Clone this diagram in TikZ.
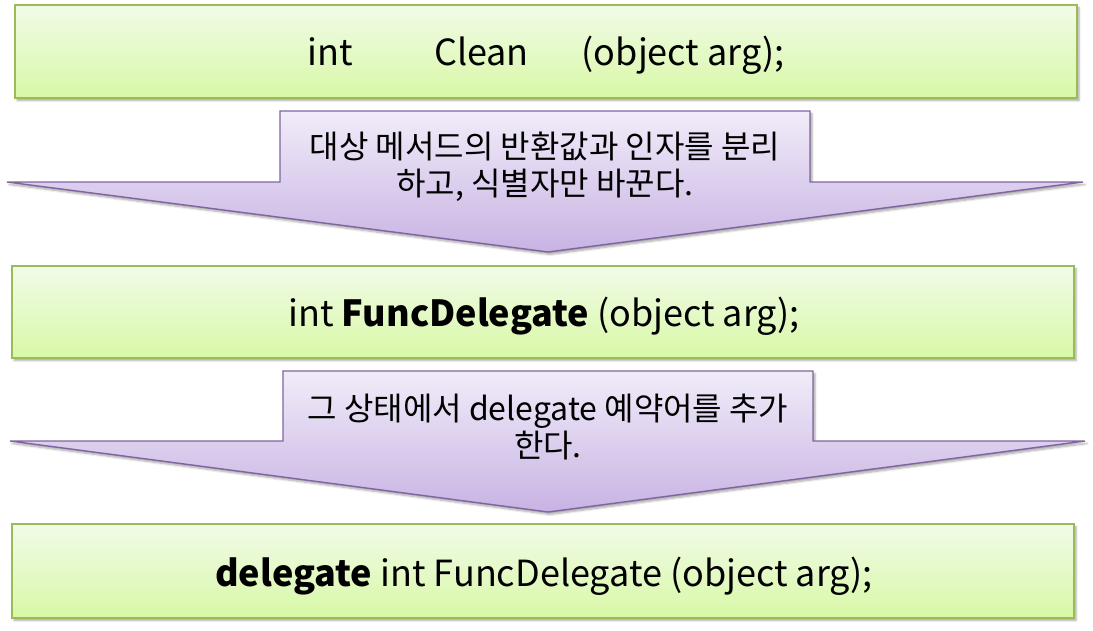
\documentclass[tikz,border=0pt]{standalone}
\usepackage{fontspec}
\setmainfont{Noto Sans CJK KR}
\usetikzlibrary{shadows.blur}
\definecolor{gborder}{HTML}{9BBB59}
\definecolor{gtop}{HTML}{F1FBE8}
\definecolor{gbot}{HTML}{D8F8A6}
\definecolor{pborder}{HTML}{8064A2}
\definecolor{ptop}{HTML}{F1ECF9}
\definecolor{pbot}{HTML}{C8B3E3}
\tikzset{
  x=1pt, y=-1pt,
  greenbox/.style={draw=gborder, line width=1.6pt, top color=gtop, bottom color=gbot,
    blur shadow={shadow xshift=2pt, shadow yshift=-2.5pt, shadow blur steps=5, shadow opacity=35}},
  purplearrow/.style={draw=pborder, line width=1.4pt, top color=ptop, bottom color=pbot,
    blur shadow={shadow xshift=2pt, shadow yshift=-2.5pt, shadow blur steps=5, shadow opacity=35}},
  boxtext/.style={font=\fontsize{36}{40}\selectfont, inner sep=0pt},
  arrowtext/.style={font=\fontsize{32}{37}\selectfont, align=center, inner sep=0pt}
}
\begin{document}
\begin{tikzpicture}
\useasboundingbox (0,0) rectangle (1093,630);
% boxes
\path[greenbox] (15,5) rectangle (1077,98);
\node[boxtext] (b1) at (546,55) {int\hspace{81pt}Clean\hspace{53pt}(object arg);};
\path[purplearrow] (280,111) -- (810,111) -- (810,182) -- (1083,182) -- (548,252) -- (7,182) -- (280,182) -- cycle;
\node[arrowtext] (t1) at (545,167) {대상 메서드의 반환값과 인자를 분리\\하고, 식별자만 바꾼다.};
\path[greenbox] (12,266) rectangle (1074,358);
\node[boxtext] (b2) at (544,316) {int \textbf{FuncDelegate} (object arg);};
\path[purplearrow] (283,371) -- (813,371) -- (813,441) -- (1085,441) -- (548,512) -- (10,441) -- (283,441) -- cycle;
\node[arrowtext] (t2) at (548,427) {그 상태에서 delegate 예약어를 추가\\한다.};
\path[greenbox] (12,524) rectangle (1074,618);
\node[boxtext] (b3) at (544,576) {\textbf{delegate} int FuncDelegate (object arg);};
\end{tikzpicture}
\end{document}
